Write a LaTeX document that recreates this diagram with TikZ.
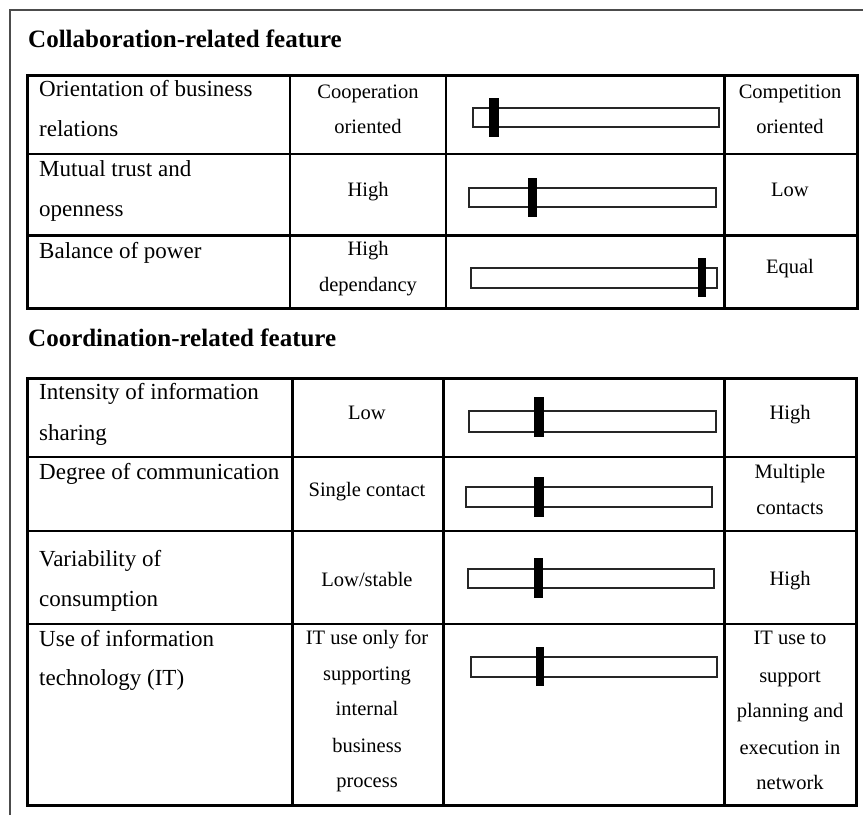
\documentclass[tikz,border=0pt]{standalone}
\usepackage{fontspec}
\setmainfont{Liberation Serif}
\begin{document}
\begin{tikzpicture}[x=1pt,y=-1pt,
  lbl/.style={font=\fontsize{23}{23}\selectfont, anchor=mid west, inner sep=0pt, yshift=-4pt},
  val/.style={font=\fontsize{20.5}{20.5}\selectfont, anchor=mid, inner sep=0pt, yshift=-4pt},
  head/.style={font=\bfseries\fontsize{25}{25}\selectfont, anchor=mid west, inner sep=0pt, yshift=-4.5pt},
  barbox/.style={draw=black!85, line width=1.5pt, fill=white},
  knob/.style={fill=black},
  outerline/.style={line width=3pt},
  innerline/.style={line width=2pt},
  thickline/.style={line width=3pt},
  frameline/.style={draw=black!70, line width=1.5pt}]
\useasboundingbox (0,0) rectangle (863,815);
% page frame
\draw[frameline] (10,815) -- (10,10) -- (863,10);
% headings
\node[head] (h1) at (28,41) {Collaboration-related feature};
\node[head] (h2) at (28,340) {Coordination-related feature};
% ---------- table 1 ----------
\draw[innerline] (27,154) -- (857,154);
\draw[thickline] (27,235) -- (857,235);
\draw[innerline] (290,75) -- (290,308);
\draw[innerline] (446,75) -- (446,308);
\draw[thickline] (724,75) -- (724,308);
\draw[outerline] (27,75) rectangle (857,308);
% sliders table 1
\draw[barbox] (473,108) rectangle (719,127);
\fill[knob] (489,98) rectangle (499,137);
\draw[barbox] (469,188) rectangle (716,207);
\fill[knob] (528,178) rectangle (537,217);
\draw[barbox] (471,268) rectangle (717,288);
\fill[knob] (698,258) rectangle (706,297);
% texts table 1
\node[lbl] (a1) at (39,90) {Orientation of business};
\node[lbl] (a2) at (39,130) {relations};
\node[val] (b1) at (368,92) {Cooperation};
\node[val] (b2) at (368,127) {oriented};
\node[val] (c1) at (790,92) {Competition};
\node[val] (c2) at (790,127) {oriented};
\node[lbl] (a3) at (39,170) {Mutual trust and};
\node[lbl] (a4) at (39,210) {openness};
\node[val] (b3) at (368,190) {High};
\node[val] (c3) at (790,190) {Low};
\node[lbl] (a5) at (39,252) {Balance of power};
\node[val] (b4) at (368,249) {High};
\node[val] (b5) at (368,285) {dependancy};
\node[val] (c4) at (790,267) {Equal};
% ---------- table 2 ----------
\draw[innerline] (27,457) -- (856,457);
\draw[innerline] (27,531) -- (856,531);
\draw[innerline] (27,624) -- (856,624);
\draw[thickline] (292,378) -- (292,805);
\draw[thickline] (443,378) -- (443,805);
\draw[thickline] (724,378) -- (724,805);
\draw[outerline] (27,378) rectangle (856,805);
% sliders table 2
\draw[barbox] (469,411) rectangle (716,432);
\fill[knob] (534,397) rectangle (544,437);
\draw[barbox] (466,487) rectangle (712,507);
\fill[knob] (534,477) rectangle (544,517);
\draw[barbox] (468,569) rectangle (714,588);
\fill[knob] (534,558) rectangle (543,598);
\draw[barbox] (471,657) rectangle (717,677);
\fill[knob] (536,647) rectangle (544,686);
% texts table 2
\node[lbl] (d1) at (39,393) {Intensity of information};
\node[lbl] (d2) at (39,434) {sharing};
\node[val] (e1) at (367,413) {Low};
\node[val] (f1) at (790,413) {High};
\node[lbl] (d3) at (39,473) {Degree of communication};
\node[val] (e2) at (367,490) {Single contact};
\node[val] (f2) at (790,472) {Multiple};
\node[val] (f3) at (790,508) {contacts};
\node[lbl] (d4) at (39,560) {Variability of};
\node[lbl] (d5) at (39,600) {consumption};
\node[val] (e3) at (367,580) {Low/stable};
\node[val] (f4) at (790,579) {High};
\node[lbl] (d6) at (39,640) {Use of information};
\node[lbl] (d7) at (39,679) {technology (IT)};
\node[val] (e4) at (367,638) {IT use only for};
\node[val] (e5) at (367,674) {supporting};
\node[val] (e6) at (367,709) {internal};
\node[val] (e7) at (367,746) {business};
\node[val] (e8) at (367,781) {process};
\node[val] (f5) at (790,638) {IT use to};
\node[val] (f6) at (790,676) {support};
\node[val] (f7) at (790,711) {planning and};
\node[val] (f8) at (790,748) {execution in};
\node[val] (f9) at (790,783) {network};
\end{tikzpicture}
\end{document}
